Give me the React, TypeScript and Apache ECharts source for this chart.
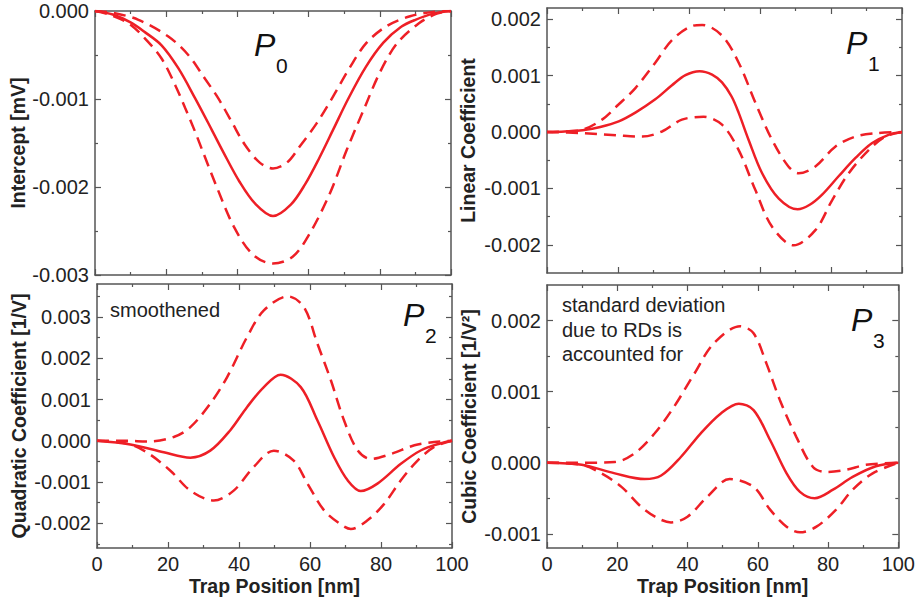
import React, { useEffect, useRef } from "react";
import * as echarts from "echarts";

// ---------- data: [trap position (nm), coefficient] ----------
const p0Mean = [[0, 0], [5, -0.00004], [10, -0.00013], [14, -0.00024], [18.7, -0.00039], [23.4, -0.00065], [28.1, -0.00099], [32.8, -0.00135], [36, -0.0016], [40.6, -0.00194], [45, -0.00219], [50, -0.00233], [55, -0.0022], [59, -0.00197], [63, -0.00167], [67, -0.00134], [71.1, -0.001], [76, -0.00064], [81, -0.00036], [86, -0.00018], [90, -0.0001], [95, -0.00003], [100, 0]];
const p0Upper = [[0, 0], [5, -0.00002], [12.2, -0.0001], [20.6, -0.00029], [26.2, -0.0005], [30.9, -0.00077], [34.6, -0.00099], [38.4, -0.00126], [42.1, -0.00152], [46.2, -0.00172], [50, -0.00179], [54, -0.00172], [57.5, -0.00154], [62.2, -0.00128], [66.9, -0.00097], [71.6, -0.00064], [76.3, -0.00036], [82, -0.00017], [88.5, -0.00006], [95, -0.00001], [100, 0]];
const p0Lower = [[0, 0], [4, -0.00004], [9.4, -0.00014], [14, -0.00031], [18.7, -0.00054], [22.5, -0.00084], [25.3, -0.0011], [28.1, -0.00137], [30.5, -0.00162], [34, -0.00198], [39, -0.00245], [44.4, -0.00277], [50, -0.00287], [55.6, -0.00279], [60.3, -0.00253], [66, -0.00207], [70.7, -0.00158], [75.4, -0.00113], [80, -0.0007], [84.8, -0.00037], [91, -0.00014], [96, -0.00003], [100, 0]];

const p1Mean = [[0, 0], [5, 0.00001], [10, 0.00003], [15, 0.00009], [20.2, 0.00019], [25, 0.00035], [30.5, 0.00058], [35.2, 0.00083], [39, 0.00101], [43, 0.00108], [46.5, 0.00102], [49.3, 0.00088], [52, 0.00063], [54, 0.00034], [56.8, -0.00014], [60.6, -0.00073], [65.3, -0.00118], [70.6, -0.00137], [74, -0.00129], [77.5, -0.00111], [82.2, -0.00078], [86.9, -0.00046], [91.5, -0.0002], [96.2, -0.00005], [100, 0]];
const p1Upper = [[0, 0], [5, 0.00001], [10, 0.00004], [15.5, 0.00022], [20, 0.00048], [24.9, 0.00078], [30.5, 0.00123], [35.2, 0.00163], [40.8, 0.00188], [43.7, 0.0019], [49.3, 0.00171], [54, 0.00123], [58.7, 0.00052], [63.4, -0.00014], [68, -0.00061], [70.9, -0.00073], [75.6, -0.00061], [81.2, -0.00026], [86.9, -0.00008], [93, -0.00002], [100, 0]];
const p1Lower = [[0, 0], [10, -0.00002], [20, -0.00006], [26.8, -0.00008], [32.4, 0.00001], [38, 0.00022], [44.1, 0.00027], [49.3, 0.00013], [54, -0.00032], [58.7, -0.00103], [63.4, -0.00168], [69.5, -0.00201], [75.6, -0.00174], [80.3, -0.00121], [85, -0.00073], [90.6, -0.00032], [95.3, -0.00008], [100, 0]];

const p2Mean = [[0, 0], [9.4, -0.00009], [18.8, -0.00028], [26.3, -0.00041], [31.9, -0.00024], [37.5, 0.00025], [42.3, 0.00082], [47, 0.0013], [51.7, 0.0016], [57.4, 0.0013], [62.1, 0.00049], [66.8, -0.0004], [70.6, -0.00096], [74.3, -0.00122], [79, -0.00104], [85.6, -0.00056], [91.3, -0.00023], [96.9, -0.00006], [100, 0]];
const p2Upper = [[0, 0], [8.5, 0], [14, -0.00002], [21.6, 0.00009], [26.3, 0.00033], [31.9, 0.0009], [36.7, 0.00155], [42.3, 0.00252], [47, 0.00316], [53.8, 0.0035], [58.3, 0.00324], [62.1, 0.00235], [65.9, 0.00146], [69.6, 0.00049], [73.4, -0.00023], [77.1, -0.00044], [82.8, -0.00032], [89.4, -0.00011], [95, -0.00003], [100, 0]];
const p2Lower = [[0, 0], [8.5, -0.00007], [14, -0.00028], [20.6, -0.00072], [26.3, -0.00121], [32.9, -0.00145], [38.5, -0.00121], [44.1, -0.00064], [49.8, -0.00024], [55.4, -0.00048], [59.3, -0.00104], [64, -0.00169], [68.7, -0.00203], [71.5, -0.00214], [76.2, -0.00193], [80.9, -0.00153], [85.6, -0.00096], [90.3, -0.00048], [95, -0.00015], [100, 0]];

const p3Mean = [[0, 0], [9.9, -0.00003], [19.3, -0.00015], [27.8, -0.00023], [32.5, -0.00018], [38.1, 0.00008], [43.7, 0.00041], [49.4, 0.00069], [54.6, 0.00083], [58.8, 0.00074], [63.5, 0.00032], [68.2, -0.00015], [72, -0.00041], [76.2, -0.0005], [81.4, -0.00038], [87, -0.0002], [93.6, -0.00005], [100, 0]];
const p3Upper = [[0, 0], [10, 0], [19.3, 0.00001], [24.9, 0.00013], [30.6, 0.00041], [36.2, 0.00079], [41.9, 0.00125], [47.5, 0.00168], [55, 0.00192], [58.8, 0.00182], [62.5, 0.00139], [66.3, 0.00088], [71, 0.00036], [75.7, -0.00006], [79.5, -0.00013], [85.1, -0.0001], [90.8, -0.00003], [100, 0]];
const p3Lower = [[0, 0], [9.9, -0.00003], [15.5, -0.00015], [21.2, -0.00034], [26.8, -0.00062], [31.5, -0.00078], [35.3, -0.00084], [40, -0.00076], [45.6, -0.00048], [52, -0.00023], [58.8, -0.00034], [63.5, -0.00066], [68.2, -0.0009], [72, -0.00098], [76.7, -0.0009], [82.3, -0.00066], [87, -0.00038], [92.7, -0.00015], [100, 0]];

const xMajorTicks = [0, 20, 40, 60, 80, 100];
const xMinorTicks = [10, 30, 50, 70, 90];

const p0YMajor = [-0.003, -0.002, -0.001, 0];
const p0YMinor = [-0.0025, -0.0015, -0.0005];
const p1YMajor = [-0.002, -0.001, 0, 0.001, 0.002];
const p1YMinor = [-0.0015, -0.0005, 0.0005, 0.0015];
const p2YMajor = [-0.002, -0.001, 0, 0.001, 0.002, 0.003];
const p2YMinor = [-0.0025, -0.0015, -0.0005, 0.0005, 0.0015, 0.0025, 0.0035];
const p3YMajor = [-0.001, 0, 0.001, 0.002];
const p3YMinor = [-0.0005, 0.0005, 0.0015];

const RED = "#ee1f26";
const FRAME = "#555555";
const TXT = "#222222";
const FONT = '"Liberation Sans", Arial, Helvetica, sans-serif';

const panels = [
  {
    grid: { left: 95, top: 11, width: 356, height: 264 },
    yMin: -0.003, yMax: 0, yMajor: p0YMajor, yMinor: p0YMinor,
    yName: "Intercept [mV]", yGap: 67, xName: "",
    mean: p0Mean, upper: p0Upper, lower: p0Lower,
  },
  {
    grid: { left: 547, top: 8, width: 355, height: 265 },
    yMin: -0.0025, yMax: 0.0022, yMajor: p1YMajor, yMinor: p1YMinor,
    yName: "Linear Coefficient", yGap: 69, xName: "",
    mean: p1Mean, upper: p1Upper, lower: p1Lower,
  },
  {
    grid: { left: 97, top: 284, width: 355, height: 264 },
    yMin: -0.0026, yMax: 0.0038, yMajor: p2YMajor, yMinor: p2YMinor,
    yName: "Quadratic Coefficient [1/V]", yGap: 68, xName: "Trap Position [nm]",
    mean: p2Mean, upper: p2Upper, lower: p2Lower,
  },
  {
    grid: { left: 547, top: 285, width: 354, height: 263 },
    yMin: -0.0012, yMax: 0.0025, yMajor: p3YMajor, yMinor: p3YMinor,
    yName: "Cubic Coefficient [1/V²]", yGap: 68, xName: "Trap Position [nm]",
    mean: p3Mean, upper: p3Upper, lower: p3Lower,
  },
];

function buildOption() {
  const xAxis: any[] = [];
  const yAxis: any[] = [];
  const series: any[] = [];
  const tickStyle = { color: FRAME, width: 1.2 };

  panels.forEach((p, gi) => {
    const mainX = xAxis.length;
    const showX = !!p.xName;
    const xBase = { gridIndex: gi, type: "value", min: 0, max: 100, splitLine: { show: false } };
    xAxis.push({
      ...xBase,
      position: "bottom",
      axisLine: { show: true, onZero: false, lineStyle: { color: FRAME, width: 1.5 } },
      axisTick: { show: true, inside: true, length: 6, customValues: xMajorTicks, lineStyle: tickStyle },
      axisLabel: {
        show: showX, customValues: xMajorTicks, fontSize: 20, color: TXT, fontFamily: FONT, margin: 6,
      },
      name: p.xName,
      nameLocation: "middle",
      nameGap: 28,
      nameTextStyle: { fontSize: 19.5, fontWeight: "bold", color: TXT, fontFamily: FONT },
    });
    xAxis.push({
      ...xBase, position: "bottom",
      axisLine: { show: false, onZero: false },
      axisTick: { show: true, inside: true, length: 3, customValues: xMinorTicks, lineStyle: tickStyle },
      axisLabel: { show: false },
    });
    xAxis.push({
      ...xBase, position: "top",
      axisLine: { show: true, onZero: false, lineStyle: { color: FRAME, width: 1.5 } },
      axisTick: { show: true, inside: true, length: 6, customValues: xMajorTicks, lineStyle: tickStyle },
      axisLabel: { show: false },
    });
    xAxis.push({
      ...xBase, position: "top",
      axisLine: { show: false, onZero: false },
      axisTick: { show: true, inside: true, length: 3, customValues: xMinorTicks, lineStyle: tickStyle },
      axisLabel: { show: false },
    });

    const mainY = yAxis.length;
    const yBase = { gridIndex: gi, type: "value", min: p.yMin, max: p.yMax, splitLine: { show: false } };
    yAxis.push({
      ...yBase, position: "left",
      axisLine: { show: true, onZero: false, lineStyle: { color: FRAME, width: 1.5 } },
      axisTick: { show: true, inside: true, length: 6, customValues: p.yMajor, lineStyle: tickStyle },
      axisLabel: {
        show: true, customValues: p.yMajor, fontSize: 20, color: TXT, fontFamily: FONT, margin: 6,
        formatter: (v: number) => (Math.abs(v) < 1e-12 ? "0.000" : v.toFixed(3)),
      },
      name: p.yName,
      nameLocation: "middle",
      nameGap: p.yGap,
      nameTextStyle: { fontSize: 19.5, fontWeight: "bold", color: TXT, fontFamily: FONT },
    });
    yAxis.push({
      ...yBase, position: "left",
      axisLine: { show: false, onZero: false },
      axisTick: { show: true, inside: true, length: 3, customValues: p.yMinor, lineStyle: tickStyle },
      axisLabel: { show: false },
    });
    yAxis.push({
      ...yBase, position: "right",
      axisLine: { show: true, onZero: false, lineStyle: { color: FRAME, width: 1.5 } },
      axisTick: { show: true, inside: true, length: 6, customValues: p.yMajor, lineStyle: tickStyle },
      axisLabel: { show: false },
    });
    yAxis.push({
      ...yBase, position: "right",
      axisLine: { show: false, onZero: false },
      axisTick: { show: true, inside: true, length: 3, customValues: p.yMinor, lineStyle: tickStyle },
      axisLabel: { show: false },
    });

    const mk = (name: string, pts: number[][], dashed: boolean) => ({
      type: "line",
      name,
      xAxisIndex: mainX,
      yAxisIndex: mainY,
      data: pts,
      smooth: 0.33,
      showSymbol: false,
      symbol: "none",
      lineStyle: { color: RED, width: 2.5, type: dashed ? [12, 7] : "solid" },
      z: 3,
    });
    series.push(mk(`P${gi} mean`, p.mean, false));
    series.push(mk(`P${gi} upper`, p.upper, true));
    series.push(mk(`P${gi} lower`, p.lower, true));
  });

  const pText = (x: number, y: number, sub: string) => [
    {
      type: "text", x, y, z: 10,
      style: { text: "P", fontSize: 32, fontStyle: "italic", fontFamily: FONT, fill: "#111", align: "left", verticalAlign: "middle" },
    },
    {
      type: "text", x: x + 22, y: y + 20, z: 10,
      style: { text: sub, fontSize: 21, fontFamily: FONT, fill: "#111", align: "left", verticalAlign: "middle" },
    },
  ];

  const graphic = [
    ...pText(254, 45, "0"),
    ...pText(846, 43, "1"),
    ...pText(403, 315, "2"),
    ...pText(851, 320, "3"),
    {
      type: "text", x: 110, y: 310, z: 10,
      style: { text: "smoothened", fontSize: 20, fontFamily: FONT, fill: TXT, align: "left", verticalAlign: "middle" },
    },
    {
      type: "text", x: 562, y: 293, z: 10,
      style: {
        text: "standard deviation\ndue to RDs is\naccounted for",
        fontSize: 20, lineHeight: 24.5, fontFamily: FONT, fill: TXT, align: "left", verticalAlign: "top",
      },
    },
  ];

  return {
    animation: false,
    backgroundColor: "#ffffff",
    grid: panels.map((p) => ({ ...p.grid, containLabel: false })),
    xAxis,
    yAxis,
    series,
    graphic,
  };
}

export default function App() {
  const ref = useRef<HTMLDivElement>(null);
  useEffect(() => {
    if (!ref.current) return;
    const chart = echarts.init(ref.current, null, { renderer: "svg" });
    chart.setOption(buildOption() as any);
    return () => chart.dispose();
  }, []);
  return (
    <div
      ref={ref}
      style={{ position: "absolute", left: 0, top: 0, width: 918, height: 603, background: "#fff" }}
    />
  );
}
